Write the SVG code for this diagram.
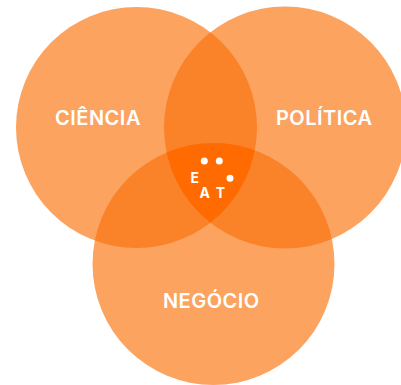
<svg xmlns="http://www.w3.org/2000/svg" width="401" height="385" viewBox="0 0 401 385">
<style>
.c1{fill:#FDA360}
.c2{fill:#FA8229}
.c3{fill:#FF6B00}
.lbl{font-family:Inter,"Liberation Sans",sans-serif;font-weight:600;font-size:20px;letter-spacing:0.5px;fill:#fff;text-anchor:middle}
.eat{font-family:Inter,"Liberation Sans",sans-serif;font-weight:700;font-size:14px;fill:#fff;text-anchor:middle}
</style>
<defs>
<clipPath id="clipL"><circle cx="136.5" cy="127.5" r="120.5"/></clipPath>
<clipPath id="clipR"><circle cx="285" cy="127.5" r="121"/></clipPath>
<clipPath id="clipLR" clip-path="url(#clipL)"><circle cx="285" cy="127.5" r="121"/></clipPath>
</defs>
<g id="ciencia">
<circle class="c1" cx="136.5" cy="127.5" r="120.5"/>
</g>
<g id="politica">
<circle class="c1" cx="285" cy="127.5" r="121"/>
</g>
<g id="negocio">
<circle class="c1" cx="213.5" cy="264" r="121"/>
</g>
<g id="overlaps">
<circle class="c2" cx="285" cy="127.5" r="121" clip-path="url(#clipL)"/>
<circle class="c2" cx="213.5" cy="264" r="121" clip-path="url(#clipL)"/>
<circle class="c2" cx="213.5" cy="264" r="121" clip-path="url(#clipR)"/>
<circle class="c3" cx="213.5" cy="264" r="121" clip-path="url(#clipLR)"/>
</g>
<g id="labels">
<text class="lbl" x="98" y="124.5">CIÊNCIA</text>
<text class="lbl" x="324.3" y="124.5">POLÍTICA</text>
<text class="lbl" x="211.3" y="307.8">NEGÓCIO</text>
</g>
<g id="eat-logo">
<circle cx="204.3" cy="161" r="3.5" fill="#fff"/>
<circle cx="219.3" cy="161" r="3.5" fill="#fff"/>
<circle cx="230" cy="178.3" r="3.5" fill="#fff"/>
<text class="eat" x="194.7" y="183.4">E</text>
<text class="eat" x="204.7" y="198.4">A</text>
<text class="eat" x="220.4" y="198.4">T</text>
</g>
</svg>
